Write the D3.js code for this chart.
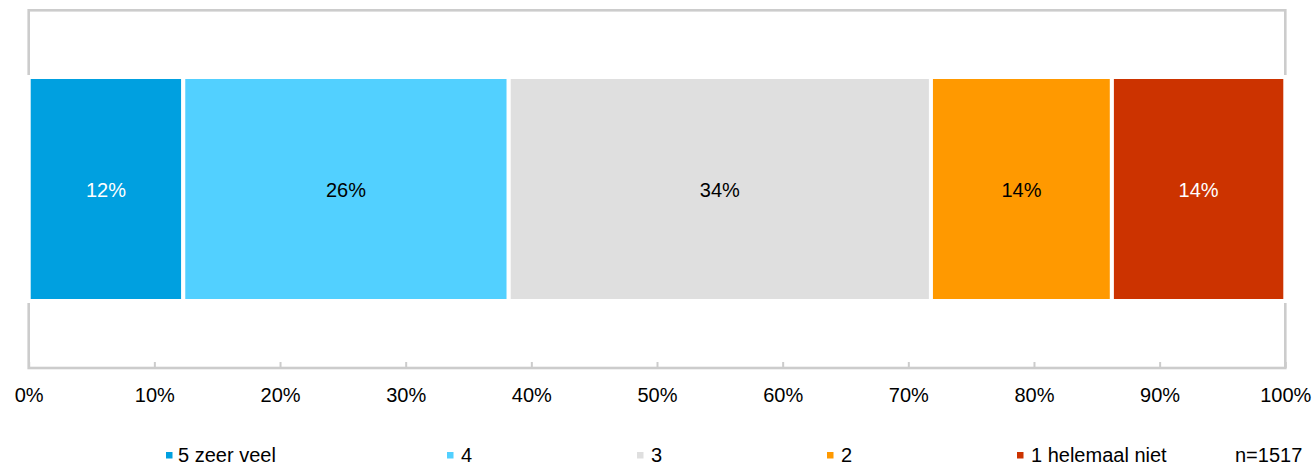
<!DOCTYPE html>
<html>
<head>
<meta charset="utf-8">
<script src="https://cdn.jsdelivr.net/npm/d3@7"></script>
<style>
  html, body { margin: 0; padding: 0; background: #ffffff; }
  svg { display: block; font-family: "Liberation Sans", Arial, sans-serif; }
</style>
</head>
<body>
<svg id="chart" width="1313" height="467"></svg>
<script>
// ---- data ----
const categories = ["5 zeer veel", "4", "3", "2", "1 helemaal niet"];
const values = [12.3, 25.9, 33.6, 14.4, 13.8];
const valueLabels = ["12%", "26%", "34%", "14%", "14%"];
const colors = ["#00A0E0", "#52D0FF", "#DFDFDF", "#FF9900", "#CC3300"];
const labelColors = ["#ffffff", "#000000", "#000000", "#000000", "#ffffff"];
const tickValues = [0, 10, 20, 30, 40, 50, 60, 70, 80, 90, 100];
const tickLabels = ["0%", "10%", "20%", "30%", "40%", "50%", "60%", "70%", "80%", "90%", "100%"];
const note = "n=1517";

// ---- layout ----
const plot = { left: 28.7, right: 1285.3, top: 10.3, bottom: 368 };
const bar = { top: 77, bottom: 301 };
const legendX = [166, 447, 637, 827, 1017];
const legendY = 462;

const svg = d3.select("#chart");
const x = d3.scaleLinear().domain([0, 100]).range([plot.left, plot.right]);
const y = d3.scaleBand().domain(["row"]).range([bar.top, bar.bottom]).padding(0);

// frame
svg.append("rect")
  .attr("x", plot.left).attr("y", plot.top)
  .attr("width", plot.right - plot.left).attr("height", plot.bottom - plot.top)
  .attr("fill", "none").attr("stroke", "#CCCCCC").attr("stroke-width", 2.6);

// ticks + labels via axis
const axis = d3.axisBottom(x)
  .tickValues(tickValues)
  .tickSize(-6)
  .tickFormat((d, i) => tickLabels[i]);
const gAxis = svg.append("g").attr("transform", `translate(0,${plot.bottom})`).call(axis);
gAxis.select(".domain").remove();
gAxis.selectAll(".tick line").attr("stroke", "#CCCCCC").attr("stroke-width", 2);
gAxis.selectAll(".tick text")
  .attr("fill", "#000").attr("font-size", 20)
  .attr("font-family", '"Liberation Sans", Arial, sans-serif')
  .attr("dy", null).attr("y", 34);

// stacked bars
let cum = 0;
const segs = values.map((v, i) => { const s = { start: cum, end: cum + v, i }; cum += v; return s; });

svg.append("g").selectAll("rect").data(segs).join("rect")
  .attr("x", d => x(d.start))
  .attr("y", y("row"))
  .attr("width", d => x(d.end) - x(d.start))
  .attr("height", y.bandwidth())
  .attr("fill", d => colors[d.i])
  .attr("stroke", "#ffffff").attr("stroke-width", 4);

svg.append("g").selectAll("text").data(segs).join("text")
  .attr("x", d => (x(d.start) + x(d.end)) / 2)
  .attr("y", y("row") + y.bandwidth() / 2 + 1)
  .attr("dy", "0.35em")
  .attr("text-anchor", "middle")
  .attr("font-size", 20)
  .attr("fill", d => labelColors[d.i])
  .text(d => valueLabels[d.i]);

// legend
const lg = svg.append("g").selectAll("g").data(categories).join("g")
  .attr("transform", (d, i) => `translate(${legendX[i]},${legendY})`);
lg.append("rect").attr("x", 0).attr("y", -10).attr("width", 6.5).attr("height", 6.5)
  .attr("fill", (d, i) => colors[i]);
lg.append("text").attr("x", (d, i) => i === 0 ? 12 : 14).attr("y", 0)
  .attr("font-size", 20).attr("fill", "#000").text(d => d);

svg.append("text").attr("x", 1235).attr("y", 462)
  .attr("font-size", 20).attr("fill", "#000").text(note);
</script>
</body>
</html>
